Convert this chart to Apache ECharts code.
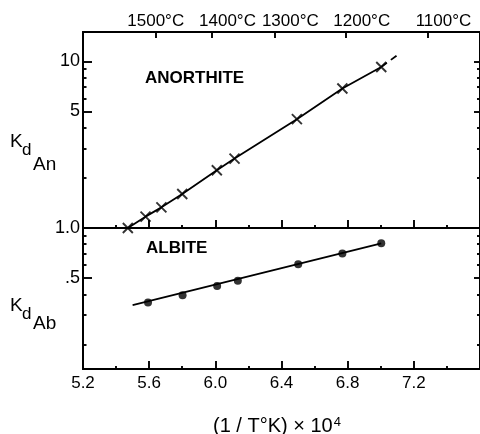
<!DOCTYPE html>
<html><head><meta charset="utf-8">
<script src="https://cdn.jsdelivr.net/npm/echarts@6/dist/echarts.min.js"></script>
<style>html,body{margin:0;padding:0;background:#fff}#c{width:480px;height:434px}</style>
</head><body><div id="c"></div>
<script>
// ---- data ----
const anX = [5.471, 5.578, 5.674, 5.800, 6.009, 6.116, 6.493, 6.768, 7.003];
const anY = [1.00, 1.17, 1.33, 1.60, 2.22, 2.61, 4.50, 6.87, 9.25];
const anExtX = [7.003, 7.10];
const anExtY = [9.25, 10.9];
const abX = [5.593, 5.802, 6.011, 6.136, 6.501, 6.768, 7.003];
const abY = [0.357, 0.395, 0.449, 0.482, 0.607, 0.704, 0.809];
const abFitX = [5.50, 7.003];
const abFitY = [0.345, 0.81];
const tempsC = [1500, 1400, 1300, 1200, 1100];
const tempLabels = ['1500°C', '1400°C', '1300°C', '1200°C', '1100°C'];
const anLabelVals = [1, 5, 10];
const anLabelText = ['1.0', '5', '10'];
const anMajor = [5, 10];
const anMinor = [2, 3, 4, 6, 7, 8, 9];
const abLabelVals = [0.5];
const abLabelText = ['.5'];
const abMajor = [0.5];
const abMinor = [0.2, 0.3, 0.4, 0.6, 0.7, 0.8, 0.9];

const FONT = 'Liberation Sans';
const tempPos = tempsC.map(t => 1e4 / (t + 273.15));
const zip = (a, b) => a.map((v, i) => [v, b[i]]);
const near = (arr, v) => arr.findIndex(a => Math.abs(a - v) < 1e-6 * Math.max(1, Math.abs(a)));
const ls = {color: '#000', width: 1.9};

function yAx(grid, pos, min, max, ticks, len, labelVals, labelText) {
  return {
    gridIndex: grid, type: 'log', logBase: 10, position: pos, min: min, max: max,
    axisLine: {show: true, onZero: false, lineStyle: ls},
    axisTick: {show: true, inside: true, length: len, customValues: ticks, lineStyle: ls},
    minorTick: {show: false},
    axisLabel: labelVals ? {
      show: true, customValues: labelVals, color: '#000', fontFamily: FONT, fontSize: 18, margin: 3,
      formatter: v => { const i = near(labelVals, v); return i >= 0 ? labelText[i] : ''; }
    } : {show: false},
    splitLine: {show: false}, minorSplitLine: {show: false}
  };
}
function xAx(grid, pos, showLabels) {
  return {
    gridIndex: grid, type: 'value', position: pos, min: 5.2, max: 7.6, interval: 0.4,
    axisLine: {show: true, onZero: false, lineStyle: ls},
    axisTick: {show: true, inside: true, length: 8, lineStyle: ls},
    minorTick: {show: true, splitNumber: 2, length: 3, lineStyle: ls},
    axisLabel: showLabels ? {show: true, showMaxLabel: false, color: '#000', fontFamily: FONT, fontSize: 17, margin: 6,
      formatter: v => v.toFixed(1)} : {show: false},
    splitLine: {show: false}, minorSplitLine: {show: false}
  };
}

const option = {
  animation: false,
  backgroundColor: '#fff',
  grid: [
    {left: 83, top: 32, width: 398, height: 196},
    {left: 83, top: 228, width: 398, height: 141}
  ],
  xAxis: [
    xAx(0, 'bottom', false),
    {
      gridIndex: 0, type: 'value', position: 'top', min: 5.2, max: 7.6,
      axisLine: {show: true, onZero: false, lineStyle: ls},
      axisTick: {show: true, inside: true, length: 6, customValues: tempPos, lineStyle: ls},
      axisLabel: {
        show: true, customValues: tempPos, color: '#000', fontFamily: FONT, fontSize: 17, margin: 2,
        formatter: v => { const i = near(tempPos, v); return i < 0 ? '' : (i === 0 ? '{a|' : '{b|') + tempLabels[i] + '}'; },
        rich: {a: {fontFamily: FONT, fontSize: 17, color: '#000'}, b: {fontFamily: FONT, fontSize: 17, color: '#000', padding: [0, 0, 0, 32]}}
      },
      splitLine: {show: false}
    },
    xAx(1, 'bottom', true)
  ],
  yAxis: [
    yAx(0, 'left', 1, 15, anMajor, 9, anLabelVals, anLabelText),
    yAx(0, 'left', 1, 15, anMinor, 3.5, null, null),
    yAx(0, 'right', 1, 15, anMajor, 6, null, null),
    yAx(0, 'right', 1, 15, anMinor, 3, null, null),
    yAx(1, 'left', 0.1426, 1, abMajor, 9, abLabelVals, abLabelText),
    yAx(1, 'left', 0.1426, 1, abMinor, 3.5, null, null),
    yAx(1, 'right', 0.1426, 1, abMajor, 6, null, null),
    yAx(1, 'right', 0.1426, 1, abMinor, 3, null, null)
  ],
  series: [
    {type: 'line', xAxisIndex: 0, yAxisIndex: 0, data: zip(anX, anY), symbol: 'none', silent: true,
      lineStyle: {color: '#000', width: 1.8}, z: 2},
    {type: 'line', xAxisIndex: 0, yAxisIndex: 0, data: zip(anExtX, anExtY), symbol: 'none', silent: true,
      lineStyle: {color: '#000', width: 1.8, type: [7, 5]}, z: 2},
    {type: 'scatter', xAxisIndex: 0, yAxisIndex: 0, data: zip(anX, anY),
      symbol: 'path://M0,0L10,10M10,0L0,10', symbolSize: 10,
      itemStyle: {color: 'none', borderColor: '#000', borderWidth: 1.9}, z: 3},
    {type: 'line', xAxisIndex: 2, yAxisIndex: 4, data: zip(abFitX, abFitY), symbol: 'none', silent: true,
      lineStyle: {color: '#000', width: 1.8}, z: 2},
    {type: 'scatter', xAxisIndex: 2, yAxisIndex: 4, data: zip(abX, abY), symbol: 'circle', symbolSize: 8,
      itemStyle: {color: '#000'}, z: 3}
  ],
  graphic: [
    {type: 'text', x: 145, y: 78, style: {text: 'ANORTHITE', font: 'bold 17px "' + FONT + '"', fill: '#000', verticalAlign: 'middle'}},
    {type: 'text', x: 146, y: 248, style: {text: 'ALBITE', font: 'bold 17px "' + FONT + '"', fill: '#000', verticalAlign: 'middle'}},
    {type: 'text', x: 10, y: 142, style: {text: 'K', font: '19px "' + FONT + '"', fill: '#000', verticalAlign: 'middle'}},
    {type: 'text', x: 22, y: 150, style: {text: 'd', font: '17px "' + FONT + '"', fill: '#000', verticalAlign: 'middle'}},
    {type: 'text', x: 33, y: 165, style: {text: 'An', font: '19px "' + FONT + '"', fill: '#000', verticalAlign: 'middle'}},
    {type: 'text', x: 10, y: 306, style: {text: 'K', font: '19px "' + FONT + '"', fill: '#000', verticalAlign: 'middle'}},
    {type: 'text', x: 22, y: 314, style: {text: 'd', font: '17px "' + FONT + '"', fill: '#000', verticalAlign: 'middle'}},
    {type: 'text', x: 33, y: 324, style: {text: 'Ab', font: '19px "' + FONT + '"', fill: '#000', verticalAlign: 'middle'}},
    {type: 'text', x: 277, y: 426, style: {
      text: '{m|(1 / T°K) × 10}{s|4}', align: 'center', verticalAlign: 'middle',
      rich: {m: {fontFamily: FONT, fontSize: 20, fill: '#000', color: '#000'},
             s: {fontFamily: FONT, fontSize: 13, fill: '#000', color: '#000', verticalAlign: 'top', padding: [0, 0, 8, 1]}}
    }}
  ]
};
const chart = echarts.init(document.getElementById('c'), null, {renderer: 'canvas'});
chart.setOption(option);
</script>
</body></html>
